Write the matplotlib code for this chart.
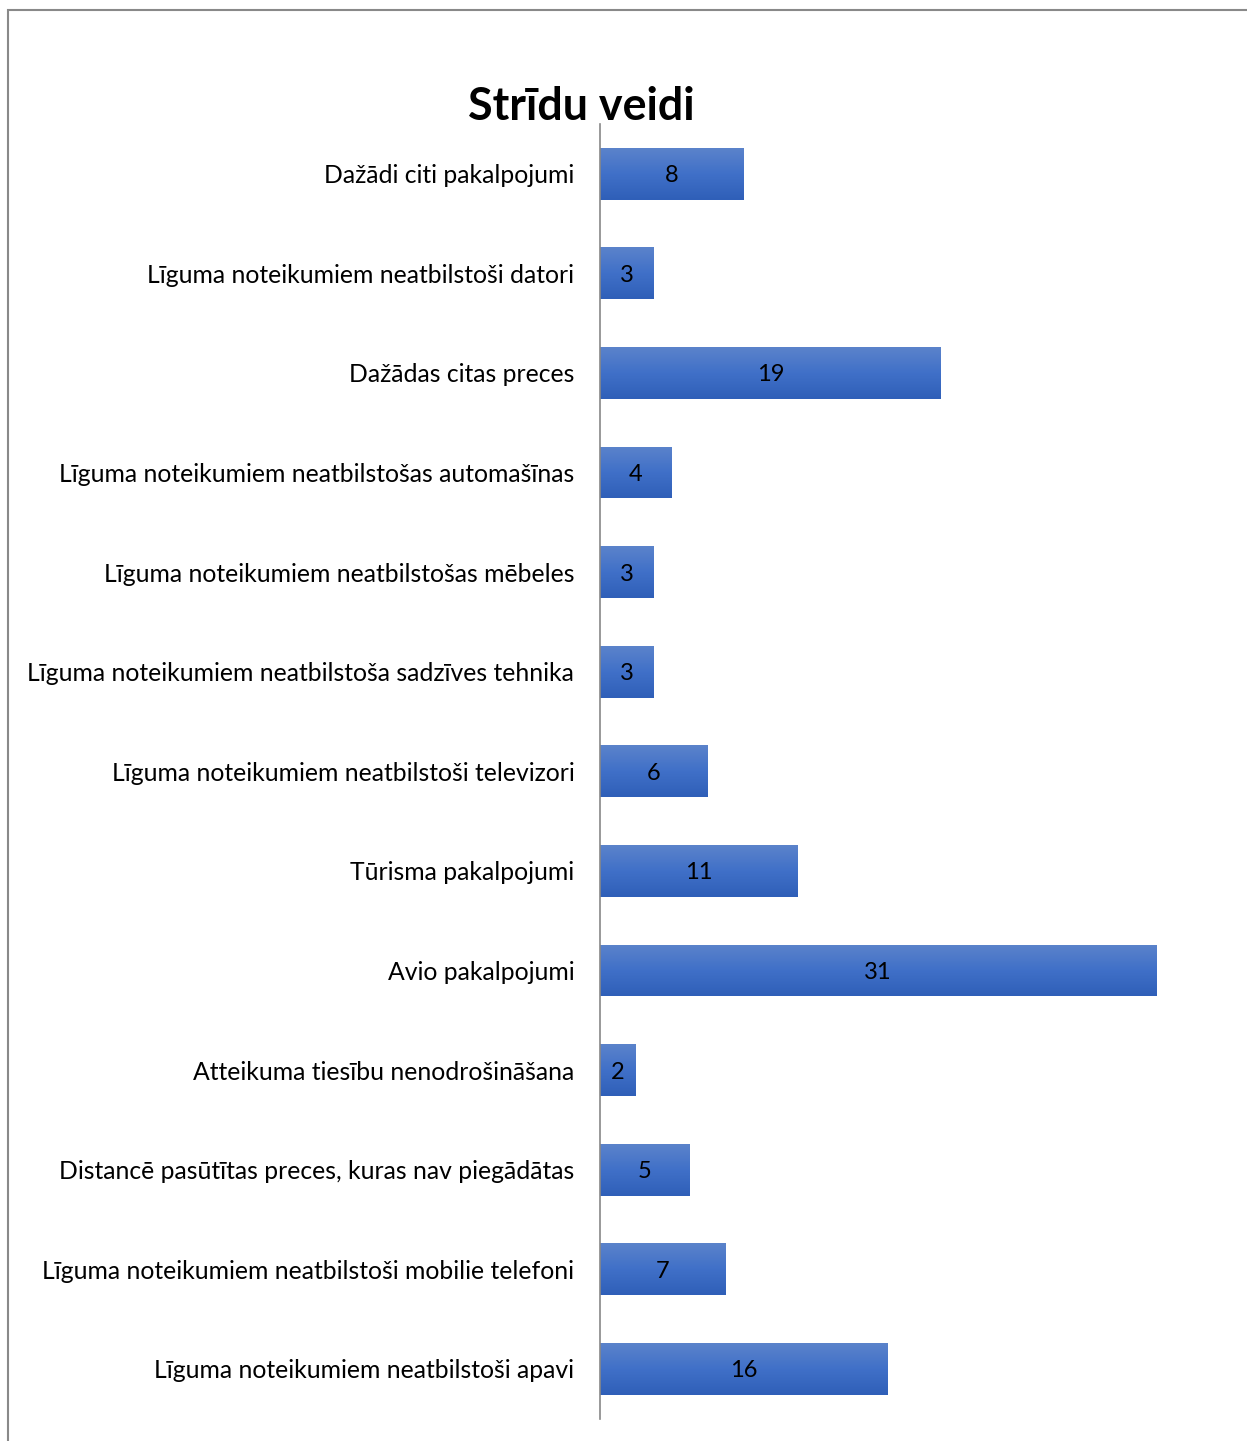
import matplotlib.pyplot as plt
import numpy as np
from matplotlib.colors import LinearSegmentedColormap
from matplotlib.patches import Rectangle

# categories listed bottom to top, as drawn
categories = [
    "Līguma noteikumiem neatbilstoši apavi",
    "Līguma noteikumiem neatbilstoši mobilie telefoni",
    "Distancē pasūtītas preces, kuras nav piegādātas",
    "Atteikuma tiesību nenodrošināšana",
    "Avio pakalpojumi",
    "Tūrisma pakalpojumi",
    "Līguma noteikumiem neatbilstoši televizori",
    "Līguma noteikumiem neatbilstoša sadzīves tehnika",
    "Līguma noteikumiem neatbilstošas mēbeles",
    "Līguma noteikumiem neatbilstošas automašīnas",
    "Dažādas citas preces",
    "Līguma noteikumiem neatbilstoši datori",
    "Dažādi citi pakalpojumi",
]
counts = [16, 7, 5, 2, 31, 11, 6, 3, 3, 4, 19, 3, 8]

plt.rcParams["font.family"] = ["Lato", "DejaVu Sans"]

fig = plt.figure(figsize=(12.47, 14.41), dpi=100)
ax = fig.add_axes([0.4812, 0.0155, 0.5036, 0.8985])

y = np.arange(len(categories))
bars = ax.barh(y, counts, height=0.52, color="#4472C4")

# vertical gradient fill, lighter on top
cmap = LinearSegmentedColormap.from_list("bar", ["#2F5FB8", "#4070C8", "#5B83CB"])
grad = np.linspace(0, 1, 100).reshape(-1, 1)
for b in bars:
    x0, y0 = b.get_x(), b.get_y()
    w, h = b.get_width(), b.get_height()
    im = ax.imshow(grad, cmap=cmap, aspect="auto", origin="lower",
                   extent=[x0, x0 + w, y0, y0 + h], zorder=2)
    im.set_clip_path(b)

for yi, v in zip(y, counts):
    ax.text(v / 2, yi - 0.02, str(v), ha="center", va="center",
            fontsize=17, color="black", zorder=3)

ax.set_xlim(0, 35)
ax.set_ylim(-0.5, len(categories) - 0.5)
ax.set_yticks(y)
ax.set_yticklabels(categories, fontsize=17.8)
ax.tick_params(axis="y", length=0, pad=18.5)
ax.set_xticks([])
for s in ["top", "right", "bottom"]:
    ax.spines[s].set_visible(False)
ax.spines["left"].set_color("#888888")
ax.spines["left"].set_linewidth(1.2)

fig.text(0.466, 0.9255, "Strīdu veidi", ha="center", va="center",
         fontsize=32.3, fontweight="bold")

# outer chart border (left and top visible)
fig.patches.append(Rectangle((8 / 1247, -0.01), 1.1, 1 - 10 / 1441 + 0.01,
                             transform=fig.transFigure, fill=False,
                             edgecolor="#898989", linewidth=1.5))

fig.savefig("out.png", dpi=100)
